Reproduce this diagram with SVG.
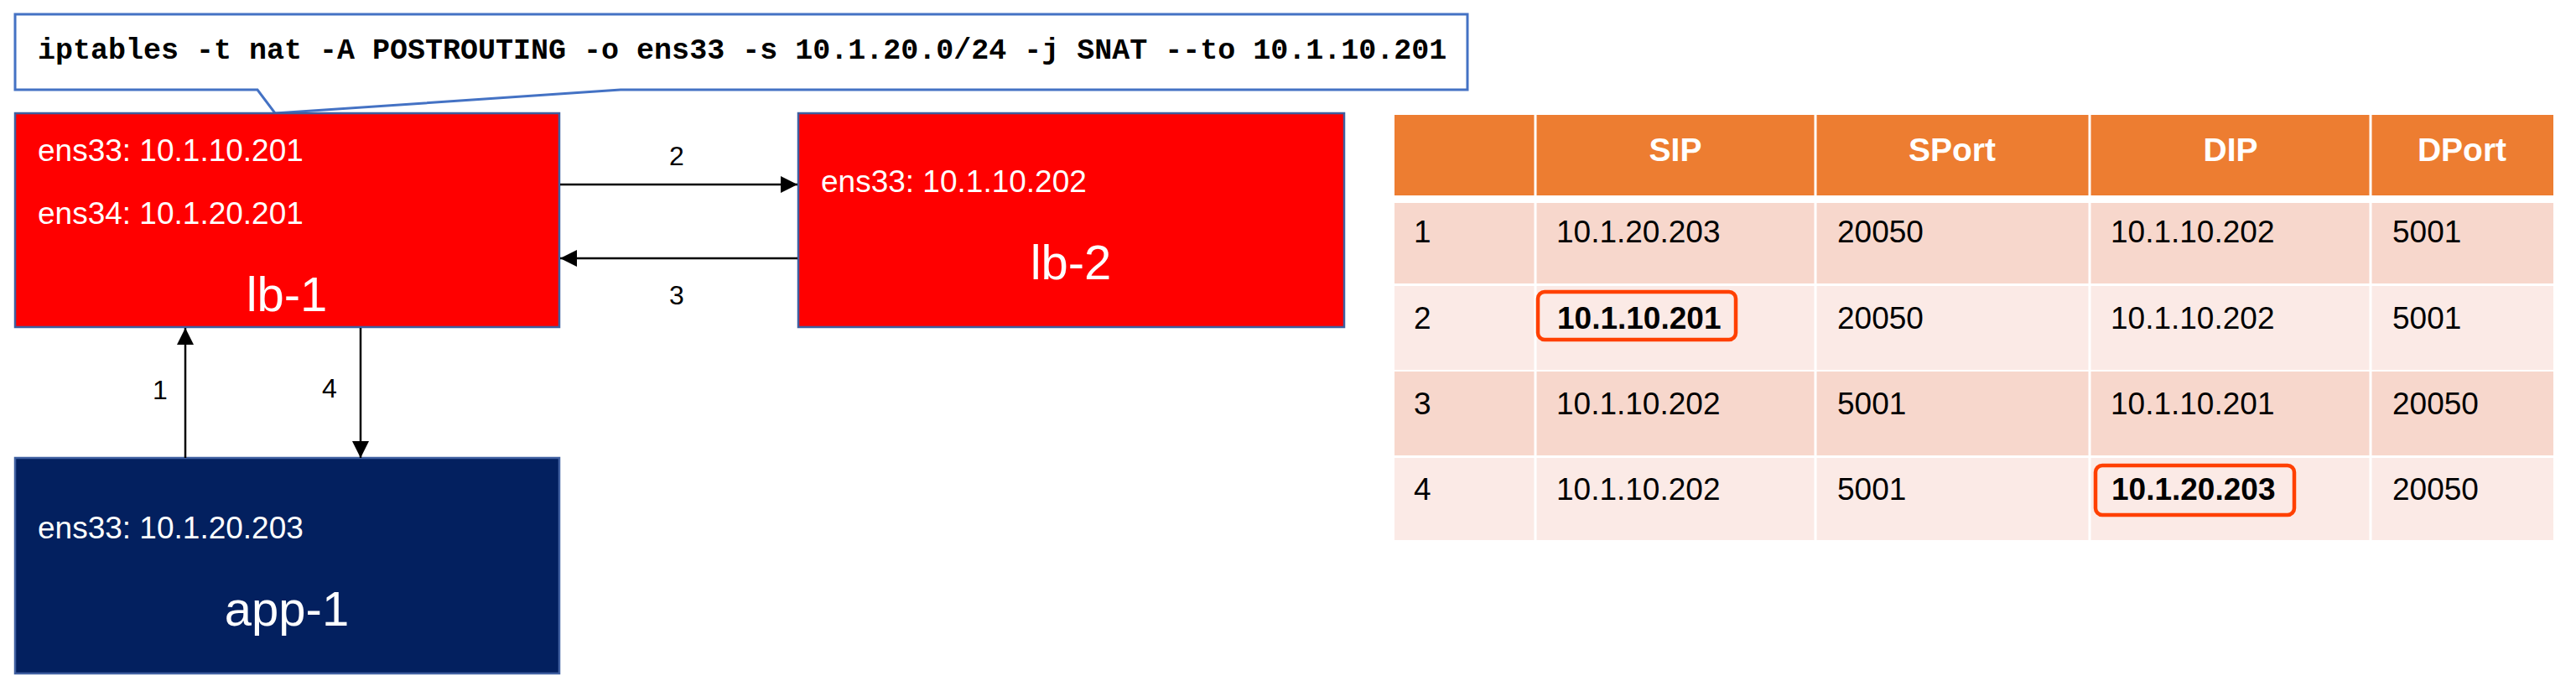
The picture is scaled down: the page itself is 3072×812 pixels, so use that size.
<svg xmlns="http://www.w3.org/2000/svg" width="3072" height="812" viewBox="0 0 3072 812">
<style>
.box{stroke:#3F5FA0;stroke-width:2.5}
.red{fill:#FF0000}
.navy{fill:#03205F}
.ip{font-family:"Liberation Sans",Arial,sans-serif;font-size:37px;fill:#FFFFFF}
.name{font-family:"Liberation Sans",Arial,sans-serif;font-size:58px;fill:#FFFFFF;text-anchor:middle}
.lbl{font-family:"Liberation Sans",Arial,sans-serif;font-size:32px;fill:#000000;text-anchor:middle}
.conn{stroke:#000000;stroke-width:2.5;fill:none}
.cmd{font-family:"Liberation Mono","Courier New",monospace;font-size:35px;font-weight:bold;fill:#000000}
.hdr{fill:#ED7D31}
.odd{fill:#F7D7CC}
.even{fill:#FBEAE6}
.th{font-family:"Liberation Sans",Arial,sans-serif;font-size:39px;font-weight:bold;fill:#FFFFFF;text-anchor:middle}
.td{font-family:"Liberation Sans",Arial,sans-serif;font-size:37px;fill:#000000}
.b{font-weight:bold}
.hl{fill:none;stroke:#FF4000;stroke-width:4.5}
.grid{stroke:#FFFFFF;stroke-width:3}
</style>
<defs>
<marker id="arr" viewBox="0 0 10 10" refX="10" refY="5" markerWidth="8" markerHeight="8" orient="auto" markerUnits="strokeWidth">
<path d="M0,0 L10,5 L0,10 z" fill="#000000"/>
</marker>
</defs>

<g id="callout">
<path d="M18,17 L1750,17 L1750,107 L740,107 L328,135 L307,107 L18,107 Z" fill="#FFFFFF" stroke="#4472C4" stroke-width="3"/>
<text class="cmd" x="45" y="70">iptables -t nat -A POSTROUTING -o ens33 -s 10.1.20.0/24 -j SNAT --to 10.1.10.201</text>
</g>

<g id="lb-1">
<rect class="box red" x="18" y="135" width="649" height="255"/>
<text class="ip" x="45" y="192">ens33: 10.1.10.201</text>
<text class="ip" x="45" y="267">ens34: 10.1.20.201</text>
<text class="name" x="342" y="371">lb-1</text>
</g>

<g id="lb-2">
<rect class="box red" x="952" y="135" width="651" height="255"/>
<text class="ip" x="979" y="229">ens33: 10.1.10.202</text>
<text class="name" x="1277" y="333">lb-2</text>
</g>

<g id="app-1">
<rect class="box navy" x="18" y="546" width="649" height="257"/>
<text class="ip" x="45" y="642">ens33: 10.1.20.203</text>
<text class="name" x="342" y="746">app-1</text>
</g>

<g id="connectors">
<line class="conn" x1="668" y1="220" x2="951" y2="220" marker-end="url(#arr)"/>
<text class="lbl" x="807" y="197">2</text>
<line class="conn" x1="951" y1="308" x2="668" y2="308" marker-end="url(#arr)"/>
<text class="lbl" x="807" y="363">3</text>
<line class="conn" x1="221" y1="546" x2="221" y2="391" marker-end="url(#arr)"/>
<text class="lbl" x="191" y="476">1</text>
<line class="conn" x1="430" y1="391" x2="430" y2="546" marker-end="url(#arr)"/>
<text class="lbl" x="393" y="474">4</text>
</g>

<g id="table">
<rect class="hdr" x="1663" y="137" width="1382" height="96"/>
<rect class="odd" x="1663" y="242" width="1382" height="96"/>
<rect class="even" x="1663" y="341" width="1382" height="100"/>
<rect class="odd" x="1663" y="443" width="1382" height="100"/>
<rect class="even" x="1663" y="546" width="1382" height="98"/>
<line class="grid" x1="1831" y1="137" x2="1831" y2="644"/>
<line class="grid" x1="2165" y1="137" x2="2165" y2="644"/>
<line class="grid" x1="2492" y1="137" x2="2492" y2="644"/>
<line class="grid" x1="2827" y1="137" x2="2827" y2="644"/>
<text class="th" x="1998" y="192">SIP</text>
<text class="th" x="2328" y="192">SPort</text>
<text class="th" x="2660" y="192">DIP</text>
<text class="th" x="2936" y="192">DPort</text>

<text class="td" x="1686" y="289">1</text>
<text class="td" x="1856" y="289">10.1.20.203</text>
<text class="td" x="2191" y="289">20050</text>
<text class="td" x="2517" y="289">10.1.10.202</text>
<text class="td" x="2853" y="289">5001</text>

<text class="td" x="1686" y="392">2</text>
<text class="td b" x="1857" y="392">10.1.10.201</text>
<text class="td" x="2191" y="392">20050</text>
<text class="td" x="2517" y="392">10.1.10.202</text>
<text class="td" x="2853" y="392">5001</text>

<text class="td" x="1686" y="494">3</text>
<text class="td" x="1856" y="494">10.1.10.202</text>
<text class="td" x="2191" y="494">5001</text>
<text class="td" x="2517" y="494">10.1.10.201</text>
<text class="td" x="2853" y="494">20050</text>

<text class="td" x="1686" y="596">4</text>
<text class="td" x="1856" y="596">10.1.10.202</text>
<text class="td" x="2191" y="596">5001</text>
<text class="td b" x="2518" y="596">10.1.20.203</text>
<text class="td" x="2853" y="596">20050</text>

<rect class="hl" x="1834" y="348" width="236" height="57" rx="8"/>
<rect class="hl" x="2499" y="555" width="237" height="59" rx="8"/>
</g>
</svg>
